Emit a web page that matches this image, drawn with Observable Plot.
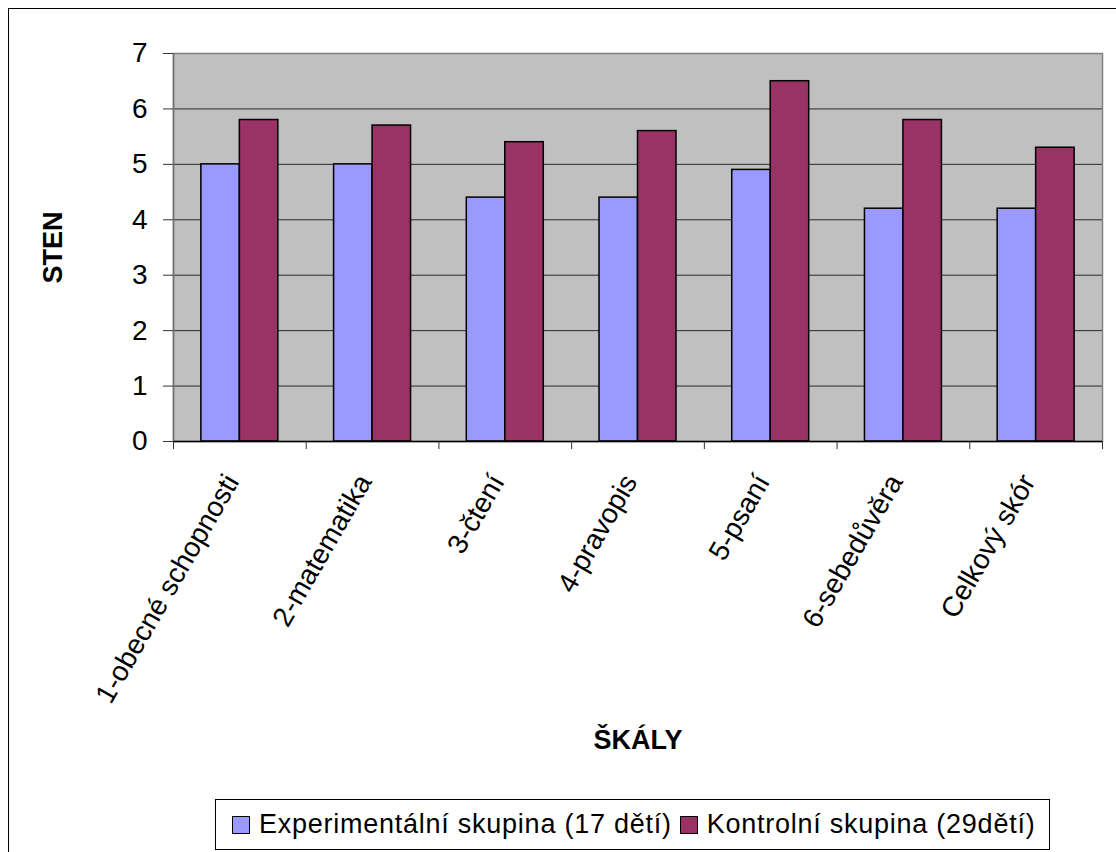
<!DOCTYPE html>
<html>
<head>
<meta charset="utf-8">
<script src="https://cdn.jsdelivr.net/npm/d3@7"></script>
<script src="https://cdn.jsdelivr.net/npm/@observablehq/plot@0.6"></script>
<style>
  html, body { margin: 0; padding: 0; background: #fff; overflow: hidden; }
  body { width: 1116px; height: 852px; position: relative; font-family: "Liberation Sans", Arial, sans-serif; }
  #chart { position: absolute; left: 0; top: 0; }
  #border { position: absolute; left: 8px; top: 8px; width: 1200px; height: 1000px; border: 1px solid #000; pointer-events: none; }
  #legend { position: absolute; left: 215px; top: 799px; width: 833px; height: 49px; border: 1px solid #000;
            display: flex; align-items: center; font-size: 27px; letter-spacing: 0.75px; color: #000; background: #fff; }
  .item { display: flex; align-items: center; }
  .sw { width: 16px; height: 16px; border: 1px solid #000; margin-right: 9px; }
</style>
</head>
<body>
<div id="chart"></div>
<div id="legend"></div>
<div id="border"></div>
<script>
// Scales (ŠKÁLY) of the test battery
const categories = [
  "1-obecné schopnosti",
  "2-matematika",
  "3-čtení",
  "4-pravopis",
  "5-psaní",
  "6-sebedůvěra",
  "Celkový skór"
];
// Mean sten per group
const experimental = [5.0, 5.0, 4.4, 4.4, 4.9, 4.2, 4.2];
const control = [5.8, 5.7, 5.4, 5.6, 6.5, 5.8, 5.3];
const seriesNames = ["Experimentální skupina (17 dětí)", "Kontrolní skupina (29dětí)"];
const seriesColors = ["#9999ff", "#993366"];
const yTicks = [0, 1, 2, 3, 4, 5, 6, 7];

// Each category spans one unit on x; the two bars sit side by side in its middle
const left = 0.21, mid = 0.5, right = 0.79;
const rows = [];
categories.forEach((c, i) => {
  rows.push({cat: c, series: seriesNames[0], value: experimental[i], x1: i + left, x2: i + mid});
  rows.push({cat: c, series: seriesNames[1], value: control[i], x1: i + mid, x2: i + right});
});
const boundaries = d3.range(categories.length + 1);

const chart = Plot.plot({
  width: 1116,
  height: 795,
  marginLeft: 173,
  marginRight: 14,
  marginTop: 53,
  marginBottom: 354,
  style: {fontFamily: "'Liberation Sans', Arial, sans-serif", color: "#000", background: "transparent"},
  x: {type: "linear", domain: [0, categories.length], axis: null},
  y: {domain: [0, 7], axis: null},
  color: {domain: seriesNames, range: seriesColors},
  marks: [
    Plot.frame({fill: "#c0c0c0", stroke: null}),
    Plot.ruleY(yTicks.filter(t => t > 0 && t < 7), {stroke: "#2a2a2a", strokeWidth: 1}),
    Plot.frame({stroke: "#808080", strokeWidth: 1.5}),
    Plot.rectY(rows, {x1: "x1", x2: "x2", y1: 0, y2: "value", fill: "series", stroke: "#000", strokeWidth: 1.5}),
    Plot.ruleY([0], {stroke: "#000", strokeWidth: 1.5}),
    Plot.ruleX([0], {stroke: "#707070", strokeWidth: 1.5}),
    Plot.axisY({ticks: yTicks, tickFormat: d => String(d), tickSize: 10, tickPadding: 16, fontSize: 28, label: null, stroke: "#333"}),
    Plot.axisX({ticks: boundaries, tickSize: 8, tickFormat: () => "", label: null, stroke: "#333"}),
    Plot.text(categories, {
      x: (d, i) => i + 0.5,
      frameAnchor: "bottom",
      text: d => d,
      rotate: -60,
      textAnchor: "end",
      dx: 0,
      dy: 40,
      fontSize: 28,
      fill: "#000"
    }),
    Plot.text(["ŠKÁLY"], {
      x: categories.length / 2,
      frameAnchor: "bottom",
      textAnchor: "middle",
      dy: 307,
      fontSize: 27,
      fontWeight: "bold",
      fill: "#000"
    }),
    Plot.text(["STEN"], {
      frameAnchor: "left",
      textAnchor: "middle",
      rotate: -90,
      dx: -120,
      fontSize: 27,
      fontWeight: "bold",
      letterSpacing: 2,
      fill: "#000"
    })
  ]
});
document.getElementById("chart").appendChild(chart);

// Legend under the chart
const legend = document.getElementById("legend");
seriesNames.forEach((name, i) => {
  const item = document.createElement("div");
  item.className = "item";
  item.style.marginLeft = i === 0 ? "16px" : "8px";
  const sw = document.createElement("div");
  sw.className = "sw";
  sw.style.background = seriesColors[i];
  const label = document.createElement("span");
  label.textContent = name;
  item.appendChild(sw);
  item.appendChild(label);
  legend.appendChild(item);
});
</script>
</body>
</html>
